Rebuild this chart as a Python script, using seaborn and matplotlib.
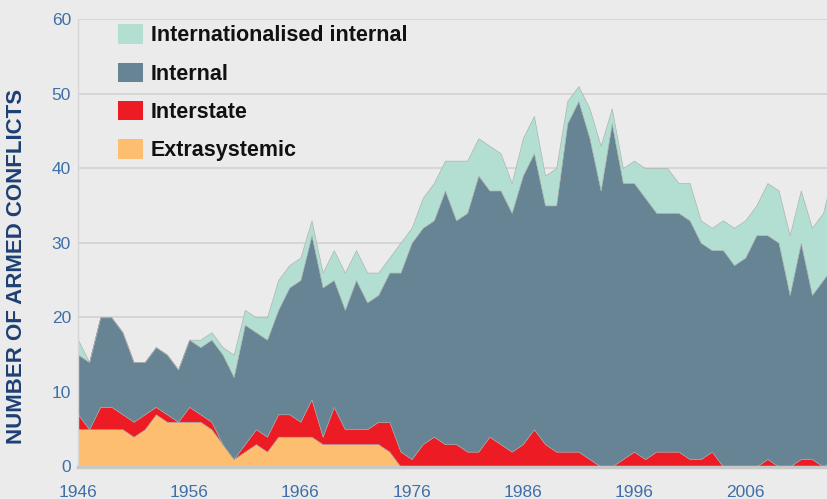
import numpy as np
import pandas as pd
import matplotlib
matplotlib.use("Agg")
import matplotlib.pyplot as plt
from matplotlib.patches import Patch
import seaborn as sns

years = list(range(1946, 2015))
extrasystemic = [5, 5, 5, 5, 5, 4, 5, 7, 6, 6, 6, 6, 5, 3, 1, 2, 3, 2, 4, 4,
                 4, 4, 3, 3, 3, 3, 3, 3, 2, 0, 0, 0, 0, 0, 0, 0, 0, 0, 0, 0,
                 0, 0, 0, 0, 0, 0, 0, 0, 0, 0, 0, 0, 0, 0, 0, 0, 0, 0, 0, 0,
                 0, 0, 0, 0, 0, 0, 0, 0, 0]
interstate = [2, 0, 3, 3, 2, 2, 2, 1, 1, 0, 2, 1, 1, 0, 0, 1, 2, 2, 3, 3,
              2, 5, 1, 5, 2, 2, 2, 3, 4, 2, 1, 3, 4, 3, 3, 2, 2, 4, 3, 2,
              3, 5, 3, 2, 2, 2, 1, 0, 0, 1, 2, 1, 2, 2, 2, 1, 1, 2, 0, 0,
              0, 0, 1, 0, 0, 1, 1, 0, 1]
internal = [8, 9, 12, 12, 11, 8, 7, 8, 8, 7, 9, 9, 11, 12, 11, 16, 13, 13, 14, 17,
            19, 22, 20, 17, 16, 20, 17, 17, 20, 24, 29, 29, 29, 34, 30, 32, 37, 33, 34, 32,
            36, 37, 32, 33, 44, 47, 43, 37, 46, 37, 36, 35, 32, 32, 32, 32, 29, 27, 29, 27,
            28, 31, 30, 30, 23, 29, 22, 25, 26]
internationalised = [2, 0, 0, 0, 0, 0, 0, 0, 0, 0, 0, 1, 1, 1, 3, 2, 2, 3, 4, 3,
                     3, 2, 2, 4, 5, 4, 4, 3, 2, 4, 2, 4, 5, 4, 8, 7, 5, 6, 5, 4,
                     5, 5, 4, 5, 3, 2, 4, 6, 2, 2, 3, 4, 6, 6, 4, 5, 3, 3, 4, 5,
                     5, 4, 7, 7, 8, 7, 9, 9, 13]

series_names = ["Extrasystemic", "Interstate", "Internal", "Internationalised internal"]
colors = ["#fdbf6f", "#ed1c24", "#668494", "#b2dfd1"]
x_ticks = [1946, 1956, 1966, 1976, 1986, 1996, 2006]
y_ticks = [0, 10, 20, 30, 40, 50, 60]

df = pd.DataFrame({"year": years, "Extrasystemic": extrasystemic, "Interstate": interstate,
                   "Internal": internal, "Internationalised internal": internationalised})

sns.set_theme(style="white")
plt.rcParams["font.family"] = ["Liberation Sans", "DejaVu Sans"]

bg = "#ebebeb"
fig = plt.figure(figsize=(8.27, 4.99), dpi=100, facecolor=bg)
ax = fig.add_axes([78 / 827, 32.5 / 499, 1 - 78 / 827, 447.6 / 499])
ax.set_facecolor(bg)

for yv in y_ticks[1:]:
    ax.axhline(yv, color="#d2d2d2", lw=1.2, zorder=0)

ax.stackplot(df["year"], [df[c] for c in series_names], colors=colors,
             linewidth=0.4, edgecolor="#a9a9a9", zorder=2)

ax.set_xlim(1946, 1946 + (827 - 78) / 11.12)
ax.set_ylim(0, 60)
ax.set_xticks(x_ticks)
ax.set_yticks(y_ticks)
ax.tick_params(axis="both", length=0, labelsize=12.5, labelcolor="#3f6fa8")
ax.tick_params(axis="x", pad=13)
ax.tick_params(axis="y", pad=5)

for s in ["top", "right"]:
    ax.spines[s].set_visible(False)
ax.spines["left"].set_color("#d6d6d6")
ax.spines["left"].set_linewidth(1.0)
ax.spines["bottom"].set_color("#c8c8c8")
ax.spines["bottom"].set_linewidth(2.5)
ax.spines["bottom"].set_zorder(3)

ax.set_ylabel("NUMBER OF ARMED CONFLICTS", fontsize=16, fontweight="bold",
              color="#1d3f73")
ax.yaxis.set_label_coords(-0.068, 0.448)

handles = [Patch(facecolor=colors[i], edgecolor="none") for i in [3, 2, 1, 0]]
labels = [series_names[i] for i in [3, 2, 1, 0]]
leg = ax.legend(handles, labels, loc="upper left", bbox_to_anchor=(0.053, 0.988),
                frameon=False, prop={"weight": "bold", "size": 15.5},
                handlelength=1.16, handleheight=1.02, handletextpad=0.37,
                labelspacing=0.75, borderpad=0, borderaxespad=0)
for t in leg.get_texts():
    t.set_color("#111111")

fig.savefig("out.png", dpi=100, facecolor=bg)
